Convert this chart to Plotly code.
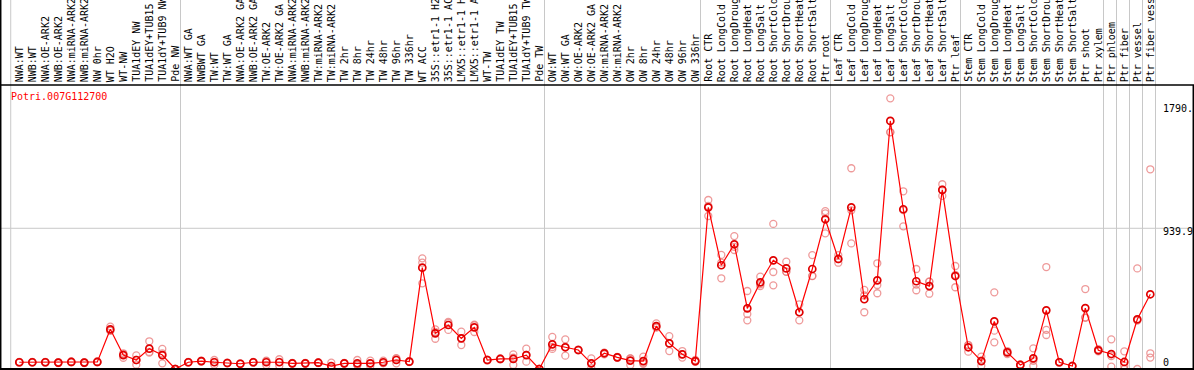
import plotly.graph_objects as go

categories = [
    "NWA:WT", "NWB:WT", "NWA:OE-ARK2", "NWB:OE-ARK2", "NWA:miRNA-ARK2", "NWB:miRNA-ARK2",
    "NW 0hr", "WT H2O", "WT-NW", "TUA1dEY NW", "TUA1dEY+TUB15 NW", "TUA1dY+TUB9 NW", "Pde NW",
    "NWA:WT GA", "NWBWT GA", "TW:WT", "TW:WT GA", "NWA:OE-ARK2 GA", "NWB:OE-ARK2 GA",
    "TW:OE-ARK2", "TW:OE-ARK2 GA", "NWA:miRNA-ARK2 GA", "NWB:miRNA-ARK2 GA", "TW:miRNA-ARK2",
    "TW:miRNA-ARK2 GA", "TW 2hr", "TW 8hr", "TW 24hr", "TW 48hr", "TW 96hr", "TW 336hr",
    "WT ACC", "35S::etr1-1 H2O", "35S::etr1-1 ACC", "LMX5::etr1-1 H2O", "LMX5::etr1-1 ACC",
    "WT-TW", "TUA1dEY TW", "TUA1dEY+TUB15 TW", "TUA1dY+TUB9 TW", "Pde TW",
    "OW:WT", "OW:WT GA", "OW:OE-ARK2", "OW:OE-ARK2 GA", "OW:miRNA-ARK2", "OW:miRNA-ARK2 GA",
    "OW 2hr", "OW 8hr", "OW 24hr", "OW 48hr", "OW 96hr", "OW 336hr",
    "Root CTR", "Root LongCold", "Root LongDrought", "Root LongHeat", "Root LongSalt",
    "Root ShortCold", "Root ShortDrought", "Root ShortHeat", "Root ShortSalt", "Ptr root",
    "Leaf CTR", "Leaf LongCold", "Leaf LongDrought", "Leaf LongHeat", "Leaf LongSalt",
    "Leaf ShortCold", "Leaf ShortDrought", "Leaf ShortHeat", "Leaf ShortSalt", "Ptr leaf",
    "Stem CTR", "Stem LongCold", "Stem LongDrought", "Stem LongHeat", "Stem LongSalt",
    "Stem ShortCold", "Stem ShortDrought", "Stem ShortHeat", "Stem ShortSalt", "Ptr shoot",
    "Ptr xylem", "Ptr phloem", "Ptr fiber", "Ptr vessel", "Ptr fiber vessel",
]

group_sizes = [13, 28, 12, 10, 10, 11, 1, 1, 1, 1]

mean_values = [
    45, 45, 45, 43, 47, 43, 47, 265, 93, 60, 136, 93, 0,
    45, 53, 45, 40, 35, 45, 45, 45, 38, 38, 42, 20, 38, 38, 38, 45, 60, 49,
    677, 238, 294, 205, 278, 60, 67, 67, 93, 0,
    165, 145, 127, 38, 105, 78, 56, 53, 287, 171, 98, 53,
    1080, 693, 833, 405, 579, 726, 672, 379, 668, 1000,
    735, 1080, 466, 592, 1657, 1067, 586, 554, 1196, 621,
    145, 53, 318, 111, 27, 71, 392, 45, 20, 407, 125,
    100, 47, 332, 499,
]

rep1 = [
    42, 43, 42, 40, 44, 40, 44, 283, 105, 91, 185, 134, 0,
    43, 50, 60, 38, 33, 42, 56, 65, 36, 36, 40, 42, 36, 60, 56, 56, 69, 46,
    739, 265, 314, 249, 296, 57, 64, 98, 136, 0,
    214, 198, 124, 71, 109, 75, 71, 82, 305, 220, 120, 60,
    1129, 762, 888, 521, 617, 969, 717, 432, 761, 1055,
    761, 1341, 528, 706, 1808, 1187, 668, 583, 1234, 688,
    116, 82, 512, 120, 24, 138, 681, 42, 18, 534, 125,
    198, 118, 672, 1334,
]

rep2 = [
    48, 47, 48, 46, 50, 46, 50, 256, 75, 29, 109, 105, 0,
    47, 56, 29, 42, 37, 48, 27, 22, 40, 40, 44, 10, 40, 27, 20, 40, 38, 52,
    710, 202, 261, 160, 247, 63, 70, 27, 49, 0,
    134, 89, 130, 5, 98, 81, 27, 35, 280, 120, 76, 48,
    1022, 606, 795, 367, 554, 648, 650, 325, 621, 906,
    710, 839, 379, 561, 1581, 953, 526, 503, 1156, 546,
    160, 22, 256, 100, 30, 20, 261, 48, 22, 345, 132,
    16, 0, 0, 105,
]

rep3 = [
    45, 45, 45, 43, 47, 43, 47, 256, 99, 60, 114, 38, 0,
    45, 53, 46, 40, 35, 45, 52, 48, 38, 38, 42, 8, 38, 27, 38, 39, 73, 49,
    572, 247, 307, 206, 291, 60, 67, 76, 94, 0,
    147, 148, 127, 38, 108, 78, 70, 42, 276, 173, 98, 51,
    1089, 711, 816, 325, 566, 559, 649, 380, 622, 1039,
    734, 1060, 491, 506, 1582, 1061, 564, 584, 1198, 629,
    159, 55, 178, 113, 27, 55, 227, 45, 20, 342, 118,
    86, 23, 324, 76,
]

title_text = "Potri.007G112700"
ytick_values = [1790, 939.9, 0]
ytick_labels = ["1790.", "939.9", "0"]

# ---------------- layout geometry ----------------
W, H = 1194, 370
MT, MB = 85, 1
plot_h = H - MT - MB
step_px = 13.0
first_px = 19.3
x_lo = -first_px / step_px
x_hi = (W - first_px) / step_px
y_range = [0, 1897]
FONT = "DejaVu Sans Mono"


def xpaper(v):
    return (v - x_lo) / (x_hi - x_lo)


top_paper = 1 + MT / plot_h
xs = list(range(len(categories)))

fig = go.Figure()

for reps in (rep1, rep2, rep3):
    fig.add_trace(go.Scatter(
        x=xs, y=reps, mode="markers",
        marker=dict(symbol="circle-open", size=7, color="rgba(232,120,120,0.75)",
                    line=dict(width=1.3)),
        hoverinfo="skip", showlegend=False,
    ))

fig.add_trace(go.Scatter(
    x=xs, y=mean_values, mode="lines+markers",
    line=dict(color="#ff0000", width=1.2),
    marker=dict(symbol="circle-open", size=7, color="#e00000", line=dict(width=1.7)),
    showlegend=False,
))

shapes = []
# separators between groups
bounds = [-0.66]
acc = 0
for g in group_sizes:
    acc += g
    bounds.append(acc - 1 + 0.4)
for b in bounds:
    shapes.append(dict(type="line", xref="paper", yref="paper",
                       x0=xpaper(b), x1=xpaper(b), y0=0, y1=top_paper,
                       line=dict(color="#c8c8c8", width=1), layer="below"))
# mid gridline
shapes.append(dict(type="line", xref="paper", yref="y", x0=0, x1=1,
                   y0=ytick_values[1], y1=ytick_values[1],
                   line=dict(color="#c8c8c8", width=1), layer="below"))
# black frame
shapes.append(dict(type="line", xref="paper", yref="paper", x0=0, x1=1, y0=1, y1=1,
                   line=dict(color="black", width=1.5)))
shapes.append(dict(type="line", xref="paper", yref="paper", x0=0, x1=1, y0=0, y1=0,
                   line=dict(color="black", width=2)))
shapes.append(dict(type="line", xref="paper", yref="paper", x0=0.0006, x1=0.0006, y0=0, y1=top_paper,
                   line=dict(color="black", width=1.5)))
shapes.append(dict(type="line", xref="paper", yref="paper", x0=0.9994, x1=0.9994, y0=0, y1=1,
                   line=dict(color="black", width=1.5)))

annotations = []
for i, c in enumerate(categories):
    annotations.append(dict(
        x=i, xref="x", y=1, yref="paper", text=c, showarrow=False,
        textangle=-90, xanchor="center", yanchor="bottom", yshift=1,
        font=dict(family=FONT, size=10, color="black"),
    ))
annotations.append(dict(
    x=xpaper(-0.8), xref="paper", y=1 - 12 / plot_h, yref="paper", text=title_text,
    showarrow=False, xanchor="left", yanchor="middle",
    font=dict(family=FONT, size=10, color="#ff0000"),
))
shifts = [-7, -3, 7]
for v, t, s in zip(ytick_values, ytick_labels, shifts):
    annotations.append(dict(
        x=xpaper(87.5) + 4 / W, xref="paper", y=v, yref="y", text=t, showarrow=False,
        xanchor="left", yanchor="middle", yshift=s,
        font=dict(family=FONT, size=10, color="black"),
    ))

fig.update_layout(
    width=W, height=H,
    margin=dict(l=0, r=0, t=MT, b=MB, pad=0),
    paper_bgcolor="white", plot_bgcolor="white",
    xaxis=dict(range=[x_lo, x_hi], visible=False, fixedrange=True),
    yaxis=dict(range=y_range, visible=False, fixedrange=True),
    shapes=shapes, annotations=annotations,
    showlegend=False,
)

fig.write_html(
    "out.html",
    config={"displayModeBar": False},
    post_script="document.body.style.margin='0';document.body.style.overflow='hidden';",
)
